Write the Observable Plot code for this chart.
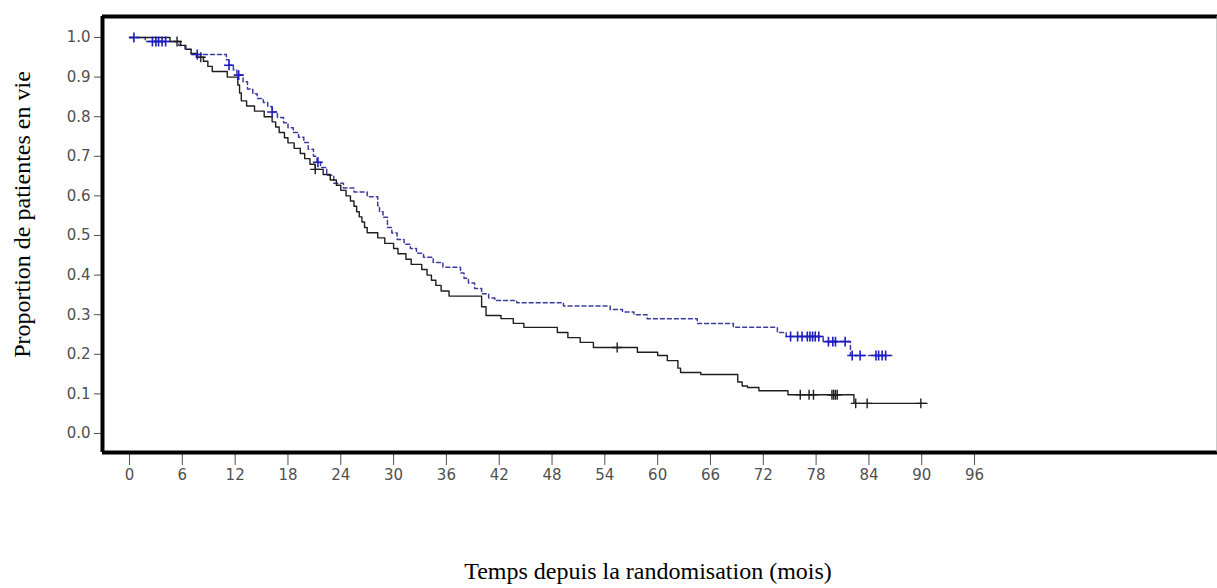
<!DOCTYPE html>
<html>
<head>
<meta charset="utf-8">
<script src="https://cdn.jsdelivr.net/npm/d3@7"></script>
<script src="https://cdn.jsdelivr.net/npm/@observablehq/plot@0.6"></script>
<style>
  html, body { margin: 0; padding: 0; background: #fff; }
  #chart { width: 1217px; height: 588px; overflow: hidden; }
</style>
</head>
<body>
<div id="chart"></div>
<script>
// Control arm (solid black): step times (months) and survival proportion
const controlTimes = [0, 4.6, 5.8, 6.4, 7.0, 7.6, 8.4, 8.9, 9.4, 11.1, 12.3, 12.5, 12.7, 13.3, 14.2, 15.3, 16.2, 16.6, 17.0, 17.6, 18.0, 18.7, 19.4, 19.9, 20.5, 21.1, 22.0, 22.8, 23.5, 24.0, 24.6, 25.1, 25.5, 25.8, 26.1, 26.4, 26.7, 27.0, 28.2, 29.0, 30.0, 30.5, 31.4, 32.0, 33.2, 33.8, 34.3, 34.8, 35.4, 36.3, 40.0, 40.5, 42.2, 43.6, 44.8, 48.6, 49.8, 51.2, 52.7, 57.7, 60.0, 61.1, 62.3, 62.6, 64.9, 69.1, 69.6, 70.2, 71.5, 74.8, 82.3, 90.6];
const controlSurv  = [1.0, 0.99, 0.98, 0.97, 0.96, 0.95, 0.94, 0.927, 0.914, 0.90, 0.88, 0.86, 0.84, 0.827, 0.814, 0.80, 0.787, 0.774, 0.76, 0.747, 0.734, 0.72, 0.707, 0.694, 0.68, 0.667, 0.654, 0.64, 0.627, 0.614, 0.60, 0.587, 0.574, 0.56, 0.547, 0.534, 0.52, 0.507, 0.494, 0.48, 0.467, 0.454, 0.44, 0.427, 0.414, 0.40, 0.387, 0.374, 0.36, 0.347, 0.32, 0.298, 0.29, 0.278, 0.268, 0.255, 0.242, 0.23, 0.217, 0.205, 0.197, 0.184, 0.165, 0.154, 0.149, 0.13, 0.12, 0.116, 0.108, 0.098, 0.076, 0.076];
const controlCensored = [5.4, 8.1, 21.1, 55.4, 76.2, 77.2, 77.7, 79.8, 80.0, 80.2, 80.4, 82.5, 83.8, 89.9];

// Treatment arm (dashed blue)
const treatTimes = [0, 1.8, 5.6, 6.3, 7.0, 11.0, 11.3, 11.8, 12.2, 12.9, 13.4, 14.0, 14.5, 15.2, 15.7, 16.2, 16.8, 17.5, 18.0, 18.6, 19.2, 19.8, 20.3, 20.9, 21.3, 21.7, 22.4, 23.2, 24.3, 25.5, 27.0, 28.2, 28.4, 28.8, 29.3, 29.8, 30.4, 31.2, 31.9, 32.6, 33.4, 34.5, 35.6, 37.6, 38.0, 38.5, 39.2, 40.0, 40.8, 41.5, 44.0, 49.3, 54.6, 56.0, 57.3, 58.8, 64.5, 68.6, 73.6, 74.6, 78.8, 81.9, 86.6];
const treatSurv  = [1.0, 0.99, 0.98, 0.97, 0.957, 0.944, 0.93, 0.918, 0.905, 0.888, 0.87, 0.858, 0.846, 0.836, 0.826, 0.812, 0.798, 0.785, 0.772, 0.76, 0.748, 0.735, 0.718, 0.70, 0.685, 0.672, 0.652, 0.632, 0.62, 0.61, 0.598, 0.575, 0.56, 0.546, 0.52, 0.506, 0.49, 0.478, 0.467, 0.455, 0.445, 0.432, 0.42, 0.405, 0.392, 0.38, 0.366, 0.353, 0.342, 0.336, 0.33, 0.322, 0.313, 0.307, 0.30, 0.29, 0.278, 0.268, 0.255, 0.245, 0.232, 0.197, 0.197];
const treatCensored = [0.5, 2.6, 3.0, 3.3, 3.7, 4.1, 7.7, 11.3, 12.4, 16.2, 21.4, 75.1, 75.9, 76.4, 77.0, 77.3, 77.6, 77.9, 78.3, 79.4, 79.9, 80.2, 81.3, 82.1, 83.0, 84.8, 85.1, 85.5, 85.9];

const xTicks = [0, 6, 12, 18, 24, 30, 36, 42, 48, 54, 60, 66, 72, 78, 84, 90, 96];
const yTicks = [0, 0.1, 0.2, 0.3, 0.4, 0.5, 0.6, 0.7, 0.8, 0.9, 1.0];

const yTitle = "Proportion de patientes en vie";
const xTitle = "Temps depuis la randomisation (mois)";

// Build tables
const toRows = (ts, ss) => ts.map((t, i) => ({t, s: ss[i]}));
const survAt = (ts, ss, t) => { let k = 0; for (let i = 0; i < ts.length; i++) if (ts[i] <= t) k = i; return ss[k]; };
const control = toRows(controlTimes, controlSurv);
const treat = toRows(treatTimes, treatSurv);
const controlCens = controlCensored.map(t => ({t, s: survAt(controlTimes, controlSurv, t)}));
const treatCens = treatCensored.map(t => ({t, s: survAt(treatTimes, treatSurv, t)}));

const xDom = [-3.07, 123.6];
const yDom = [-0.048, 1.053];

const chart = Plot.plot({
  width: 1217,
  height: 588,
  marginLeft: 102,
  marginRight: 0,
  marginTop: 16,
  marginBottom: 136,
  style: {fontFamily: "DejaVu Sans, Verdana, sans-serif", fontSize: "15px", color: "#505050", background: "#fff"},
  x: {domain: xDom, ticks: xTicks, tickSize: 13, tickPadding: 4, tickFormat: d3.format("d"), label: null},
  y: {domain: yDom, ticks: yTicks, tickSize: 8, tickPadding: 4, tickFormat: d3.format(".1f"), label: null},
  marks: [
    Plot.line(treat, {x: "t", y: "s", curve: "step-after", stroke: "#3c3ca0", strokeWidth: 1.5, strokeDasharray: "4,3"}),
    Plot.line(control, {x: "t", y: "s", curve: "step-after", stroke: "#1e1e1e", strokeWidth: 1.4}),
    Plot.dot(controlCens, {x: "t", y: "s", symbol: "plus", r: 3.3, stroke: "#1e1e1e", strokeWidth: 1.4}),
    Plot.dot(treatCens, {x: "t", y: "s", symbol: "plus", r: 3.3, stroke: "#1c1cc0", strokeWidth: 1.6}),
    Plot.ruleY([yDom[1]], {stroke: "#000", strokeWidth: 4}),
    Plot.ruleY([yDom[0]], {stroke: "#000", strokeWidth: 4}),
    Plot.ruleX([xDom[0]], {stroke: "#000", strokeWidth: 4, y1: yDom[0], y2: yDom[1]}),
    Plot.ruleX([xDom[1]], {stroke: "#999", strokeWidth: 2, y1: yDom[0], y2: yDom[1]}),
    Plot.text([yTitle], {frameAnchor: "left", rotate: -90, dx: -80, dy: -20, fontFamily: "Liberation Serif, Times New Roman, serif", fontSize: 24, fill: "#000", lineAnchor: "middle", textAnchor: "middle"}),
    Plot.text([xTitle], {frameAnchor: "bottom", dx: -12, dy: 119, fontFamily: "Liberation Serif, Times New Roman, serif", fontSize: 24, fill: "#000", lineAnchor: "middle", textAnchor: "middle"})
  ]
});
document.getElementById("chart").appendChild(chart);
</script>
</body>
</html>
